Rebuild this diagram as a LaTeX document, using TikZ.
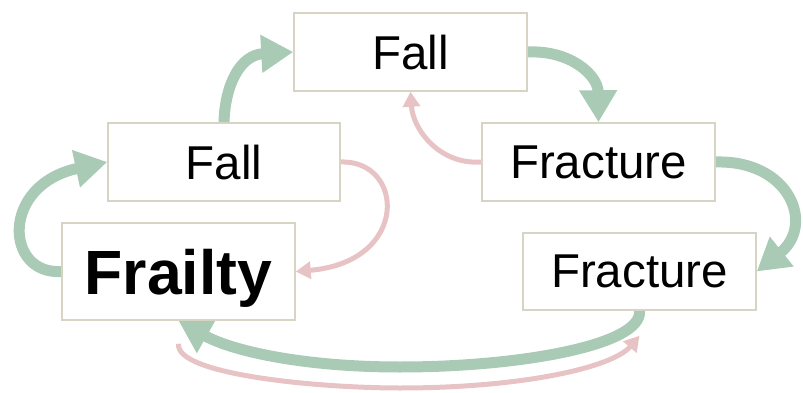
\documentclass[tikz,border=0pt]{standalone}
\usepackage{fontspec}
\setmainfont{Liberation Sans}
\usetikzlibrary{arrows.meta,backgrounds}
\definecolor{gArrow}{HTML}{A9CAB5}
\definecolor{pArrow}{HTML}{E8C3C5}
\definecolor{boxLine}{HTML}{D8D4C3}
\tikzset{
  box/.style={draw=boxLine, line width=1.5pt, fill=white, inner sep=0pt,
    text depth=0pt, font=\fontsize{47.5}{50}\selectfont},
  bigbox/.style={box, font=\fontsize{62.5}{65}\selectfont\bfseries},
  garrow/.style={draw=gArrow, line width=11pt, -{Triangle[length=32pt,width=36pt]}},
  parrow/.style={draw=pArrow, line width=5pt, -{Triangle[length=15pt,width=17pt]}}
}
\begin{document}
\begin{tikzpicture}[x=1pt,y=-1pt]
\useasboundingbox (0,0) rectangle (803,393);
\node[bigbox, minimum width=233pt, minimum height=97pt] (frailty) at (178.5,271.5) {Frailty};
\node[box, minimum width=232pt, minimum height=78pt] (fallL) at (224,162) {Fall};
\node[box, minimum width=233pt, minimum height=78pt] (fallT) at (410.5,52) {Fall};
\node[box, minimum width=233pt, minimum height=78pt] (fracA) at (598.5,162) {Fracture};
\node[box, minimum width=233pt, minimum height=77pt] (fracB) at (639.5,271.5) {Fracture};
\coordinate (pStart) at ([yshift=-23pt]frailty.south);
\coordinate (pEnd) at ([yshift=-25pt]fracB.south);
\begin{pgfonlayer}{background}
\path[garrow] (frailty.west) .. controls (5,275) and (0,185) .. (fallL.west);
\path[garrow] (fallL.north) .. controls (225,85) and (240,55) .. (fallT.west);
\path[garrow] (fallT.east) .. controls (570,50) and (598,75) .. (fracA.north);
\path[garrow] (fracA.east) .. controls (790,160) and (815,225) .. (fracB.east);
\path[garrow] (fracB.south) .. controls (643,345) and (520,367) .. (400,367)
   .. controls (300,367) and (230,350) .. (frailty.south);
\path[parrow] (fallL.east) .. controls (405,160) and (410,262) .. (frailty.east);
\path[parrow] (fracA.west) .. controls (440,165) and (413,130) .. (fallT.south);
\path[parrow] (pStart) .. controls (175,375) and (320,388) .. (400,388)
   .. controls (520,388) and (612,368) .. (pEnd);
\end{pgfonlayer}
\end{tikzpicture}
\end{document}
